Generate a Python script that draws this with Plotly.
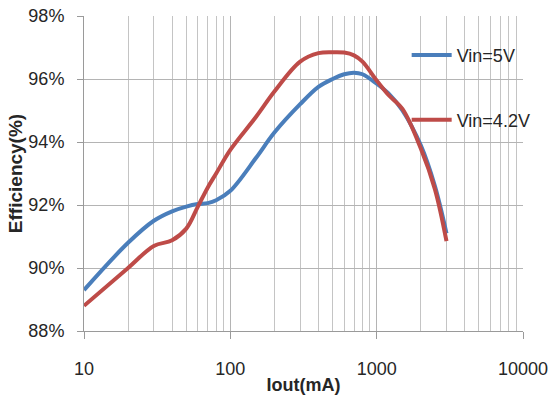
import plotly.graph_objects as go

# Output current (mA) and measured efficiency (%) for each input voltage
iout_ma = [10, 20, 30, 40, 50, 60, 70, 80, 100, 150, 200, 300, 400, 500, 600,
           700, 800, 1000, 1200, 1500, 2000, 2500, 3000]
eff_5v = [89.3, 90.8, 91.5, 91.8, 91.95, 92.03, 92.06, 92.15, 92.45, 93.5, 94.3,
          95.2, 95.75, 96.0, 96.15, 96.2, 96.15, 95.85, 95.55, 95.0, 93.9, 92.6, 91.1]
eff_42v = [88.8, 90.0, 90.7, 90.88, 91.25, 91.95, 92.55, 93.0, 93.75, 94.8, 95.6,
           96.55, 96.82, 96.85, 96.84, 96.75, 96.55, 95.95, 95.5, 95.05, 93.8, 92.5, 90.85]

series_names = ["Vin=5V", "Vin=4.2V"]
series_colors = ["#4A7EBB", "#BE4B48"]

x_major = [10, 100, 1000, 10000]
x_major_text = ["10", "100", "1000", "10000"]
x_minor = [m * d for d in (10, 100, 1000) for m in range(2, 10)]
y_ticks = [88, 90, 92, 94, 96, 98]
y_tick_text = [f"{v}%" for v in y_ticks]

FONT = "Liberation Sans"
TXT = "#262626"

fig = go.Figure()
for name, vals, col, lg in zip(series_names, [eff_5v, eff_42v], series_colors,
                               ["legend", "legend2"]):
    fig.add_trace(go.Scatter(
        x=iout_ma, y=vals, name=name, mode="lines",
        line=dict(color=col, width=4, shape="spline", smoothing=1.0),
        legend=lg, showlegend=True,
    ))

legend_common = dict(
    bgcolor="rgba(0,0,0,0)", borderwidth=0,
    font=dict(family=FONT, size=18, color=TXT),
    xanchor="left", yanchor="middle", xref="paper", yref="paper",
    itemwidth=40, tracegroupgap=0, visible=True,
)

fig.update_layout(
    width=550, height=401,
    margin=dict(l=84, r=27, t=16, b=70, autoexpand=False),
    paper_bgcolor="white", plot_bgcolor="white",
    font=dict(family=FONT, color=TXT),
    showlegend=True,
    legend=dict(x=0.735, y=0.875, **legend_common),
    legend2=dict(x=0.735, y=0.67, **legend_common),
    xaxis=dict(
        type="log", range=[1, 4], automargin=False,
        tickmode="array", tickvals=x_major, ticktext=x_major_text,
        tickfont=dict(family=FONT, size=18, color=TXT),
        ticks="outside", ticklen=7, tickcolor="#9a9a9a",
        ticklabelstandoff=14,
        showgrid=True, gridcolor="#b4b4b4", gridwidth=1,
        minor=dict(tickmode="array", tickvals=x_minor, showgrid=True,
                   gridcolor="#c4c4c4", gridwidth=1, ticks=""),
        showline=True, linecolor="#9a9a9a", linewidth=1,
        zeroline=False,
        title=dict(text="<b>Iout(mA)</b>", standoff=0,
                   font=dict(family=FONT, size=18, color=TXT)),
    ),
    yaxis=dict(
        range=[88, 98], automargin=False,
        tickmode="array", tickvals=y_ticks, ticktext=y_tick_text,
        tickfont=dict(family=FONT, size=18, color=TXT),
        ticks="outside", ticklen=6, tickcolor="#9a9a9a",
        ticklabelstandoff=9,
        showgrid=True, gridcolor="#b4b4b4", gridwidth=1,
        showline=True, linecolor="#9a9a9a", linewidth=1,
        zeroline=False,
        title=dict(text="<b>Efficiency(%)</b>", standoff=0,
                   font=dict(family=FONT, size=19, color=TXT)),
    ),
)

fig.write_html("out.html")
